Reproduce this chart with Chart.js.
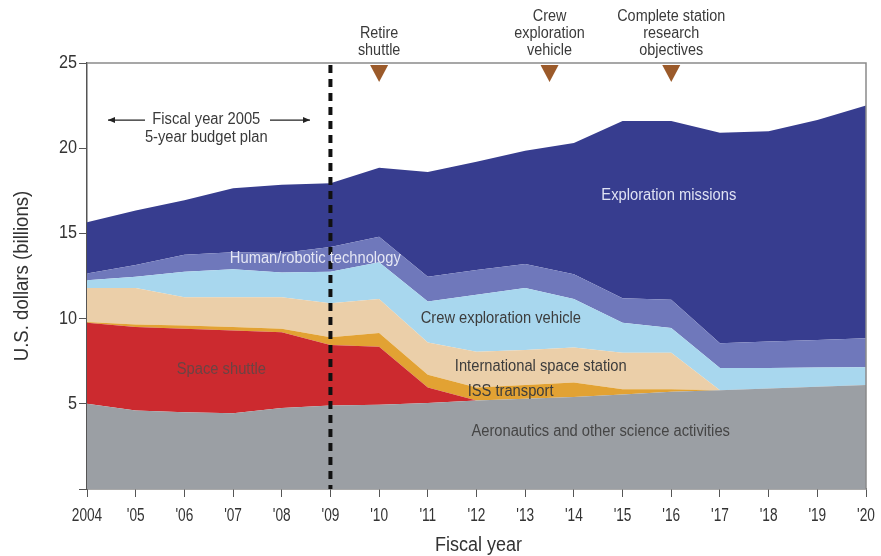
<!DOCTYPE html>
<html>
<head>
<meta charset="utf-8">
<script src="https://cdn.jsdelivr.net/npm/chart.js@4.4.1/dist/chart.umd.min.js"></script>
<style>
  html, body { margin: 0; padding: 0; background: #fff; }
  #wrap { width: 881px; height: 556px; }
</style>
</head>
<body>
<div id="wrap"><canvas id="budgetChart" width="881" height="556"></canvas></div>
<script>
// NASA budget projection, stacked by program (billions of US dollars)

const years = ['2004', "'05", "'06", "'07", "'08", "'09", "'10", "'11", "'12", "'13", "'14", "'15", "'16", "'17", "'18", "'19", "'20"];
const yTicks = [5, 10, 15, 20, 25];

const aeronautics  = [5.0, 4.6, 4.5, 4.45, 4.75, 4.9, 4.95, 5.05, 5.2, 5.3, 5.4, 5.55, 5.7, 5.8, 5.9, 6.0, 6.1];
const spaceShuttle = [4.75, 4.9, 4.9, 4.85, 4.45, 3.55, 3.4, 0.9, 0, 0, 0, 0, 0, 0, 0, 0, 0];
const issTransport = [0.05, 0.15, 0.2, 0.2, 0.2, 0.45, 0.8, 0.75, 0.75, 0.8, 0.85, 0.3, 0.15, 0, 0, 0, 0];
const spaceStation = [2.0, 2.15, 1.65, 1.75, 1.85, 2.0, 2.0, 1.9, 2.1, 2.05, 2.05, 2.15, 2.15, 0, 0, 0, 0];
const crewVehicle  = [0.45, 0.65, 1.5, 1.65, 1.45, 1.85, 2.15, 2.4, 3.35, 3.65, 2.85, 1.75, 1.45, 1.3, 1.2, 1.13, 1.05];
const humanRobotic = [0.4, 0.7, 1.0, 1.0, 1.15, 1.45, 1.5, 1.45, 1.45, 1.4, 1.45, 1.45, 1.65, 1.45, 1.55, 1.62, 1.7];
const exploration  = [3.0, 3.2, 3.2, 3.75, 4.0, 3.75, 4.05, 6.15, 6.35, 6.65, 7.7, 10.4, 10.5, 12.35, 12.35, 12.9, 13.65];

const milestoneYears  = [6, 9.5, 12];   // category positions: '10, mid '13-'14, '16
const milestoneLabels = [['Retire', 'shuttle'], ['Crew', 'exploration', 'vehicle'], ['Complete station', 'research', 'objectives']];
const planEndIndex = 5;                 // fiscal year 2009

const FONT = "'Liberation Sans', Arial, sans-serif";

function layer(label, data, color, fill) {
    return {
        label: label,
        data: data,
        backgroundColor: color,
        borderColor: color,
        borderWidth: 0,
        pointRadius: 0,
        tension: 0,
        fill: fill
    };
}

// condensed text (the original uses a narrow typeface)
function narrowText(ctx, text, x, y, size, color, squeeze, align) {
    ctx.save();
    ctx.font = size + 'px ' + FONT;
    ctx.fillStyle = color;
    ctx.textAlign = align || 'center';
    ctx.textBaseline = 'middle';
    ctx.translate(x, y);
    ctx.scale(squeeze, 1);
    ctx.fillText(text, 0, 0);
    ctx.restore();
}

// Extra drawing: frame, tick labels, dashed plan line, milestones, area labels, axis titles
const annotations = {
    id: 'annotations',
    afterDatasetsDraw(chart) {
        const ctx = chart.ctx;
        const xs = chart.scales.x;
        const ys = chart.scales.y;
        const area = chart.chartArea;

        ctx.save();

        // top and right frame
        ctx.strokeStyle = '#8a8a8a';
        ctx.lineWidth = 1.5;
        ctx.beginPath();
        ctx.moveTo(area.left, area.top);
        ctx.lineTo(area.right, area.top);
        ctx.lineTo(area.right, area.bottom);
        ctx.stroke();

        // tick labels
        xs.ticks.forEach((t, i) => {
            narrowText(ctx, years[i], xs.getPixelForTick(i), area.bottom + 27, 18, '#333', 0.76);
        });
        yTicks.forEach(v => {
            narrowText(ctx, String(v), 77, ys.getPixelForValue(v), 18, '#333', 0.9, 'right');
        });

        // end of the 5-year plan
        const px = xs.getPixelForValue(planEndIndex);
        ctx.strokeStyle = '#111';
        ctx.lineWidth = 4;
        ctx.setLineDash([8, 6]);
        ctx.beginPath();
        ctx.moveTo(px, area.top + 2);
        ctx.lineTo(px, area.bottom);
        ctx.stroke();
        ctx.setLineDash([]);

        // milestone triangles and captions
        milestoneYears.forEach((v, i) => {
            const mx = xs.getPixelForValue(v);
            ctx.fillStyle = '#9b5a2a';
            ctx.beginPath();
            ctx.moveTo(mx - 9, area.top + 2);
            ctx.lineTo(mx + 9, area.top + 2);
            ctx.lineTo(mx, area.top + 19);
            ctx.closePath();
            ctx.fill();

            const lines = milestoneLabels[i];
            lines.forEach((t, j) => {
                narrowText(ctx, t, mx, 51 - (lines.length - 1 - j) * 17, 16, '#3a3a3a', 0.9);
            });
        });

        // area labels
        const put = (text, xv, yv, color) => {
            narrowText(ctx, text, xs.getPixelForValue(xv), ys.getPixelForValue(yv), 16, color, 0.92);
        };
        put('Exploration missions', 11.95, 17.2, '#dfe2f3');
        put('Human/robotic technology', 4.69, 13.55, '#e4e6f4');
        put('Crew exploration vehicle', 8.5, 10.0, '#3c3c3c');
        put('International space station', 9.32, 7.2, '#3c3c3c');
        put('ISS transport', 8.7, 5.7, '#3c3c3c');
        put('Space shuttle', 2.76, 7.0, '#6a4444');
        put('Aeronautics and other science activities', 10.55, 3.35, '#454545');

        // plan note with arrows
        put('Fiscal year 2005', 2.45, 21.65, '#3a3a3a');
        put('5-year budget plan', 2.45, 20.6, '#3a3a3a');
        const ay = ys.getPixelForValue(21.65);
        const arrow = (x1, x2) => {
            ctx.strokeStyle = '#222';
            ctx.lineWidth = 1.2;
            ctx.beginPath();
            ctx.moveTo(x1, ay);
            ctx.lineTo(x2, ay);
            ctx.stroke();
            const d = x2 > x1 ? -1 : 1;
            ctx.fillStyle = '#222';
            ctx.beginPath();
            ctx.moveTo(x2, ay);
            ctx.lineTo(x2 + d * 7, ay - 3);
            ctx.lineTo(x2 + d * 7, ay + 3);
            ctx.closePath();
            ctx.fill();
        };
        arrow(145, 108);
        arrow(270, 310);

        // axis titles
        narrowText(ctx, 'Fiscal year', (area.left + area.right) / 2 + 2, 545, 20, '#333', 0.9);
        ctx.translate(22, (area.top + area.bottom) / 2);
        ctx.rotate(-Math.PI / 2);
        narrowText(ctx, 'U.S. dollars (billions)', 0, 0, 20, '#333', 0.93);

        ctx.restore();
    }
};

const ctx = document.getElementById('budgetChart').getContext('2d');
const chart = new Chart(ctx, {
    type: 'line',
    data: {
        labels: years,
        datasets: [
            layer('Aeronautics and other science activities', aeronautics, '#9b9fa4', 'origin'),
            layer('Space shuttle', spaceShuttle, '#cc2a2f', '-1'),
            layer('ISS transport', issTransport, '#e2a233', '-1'),
            layer('International space station', spaceStation, '#ebcfa9', '-1'),
            layer('Crew exploration vehicle', crewVehicle, '#a8d7ee', '-1'),
            layer('Human/robotic technology', humanRobotic, '#6f78bb', '-1'),
            layer('Exploration missions', exploration, '#373d8f', '-1')
        ]
    },
    options: {
        responsive: false,
        animation: false,
        layout: { padding: { left: 0, right: 15, top: 63, bottom: 0 } },
        plugins: {
            legend: { display: false },
            tooltip: { enabled: false }
        },
        scales: {
            x: {
                grid: { drawOnChartArea: false, drawTicks: true, tickLength: 8, color: '#555' },
                border: { color: '#555', width: 1.5 },
                ticks: { display: false, autoSkip: false },
                afterFit(scale) { scale.height = 67; }
            },
            y: {
                stacked: true,
                min: 0,
                max: 25,
                afterBuildTicks(scale) {
                    scale.ticks = [0].concat(yTicks).map(v => ({ value: v }));
                },
                grid: { drawOnChartArea: false, drawTicks: true, tickLength: 8, color: '#555' },
                border: { color: '#555', width: 1.5 },
                ticks: { display: false },
                afterFit(scale) { scale.width = 87; }
            }
        }
    },
    plugins: [annotations]
});
</script>
</body>
</html>
